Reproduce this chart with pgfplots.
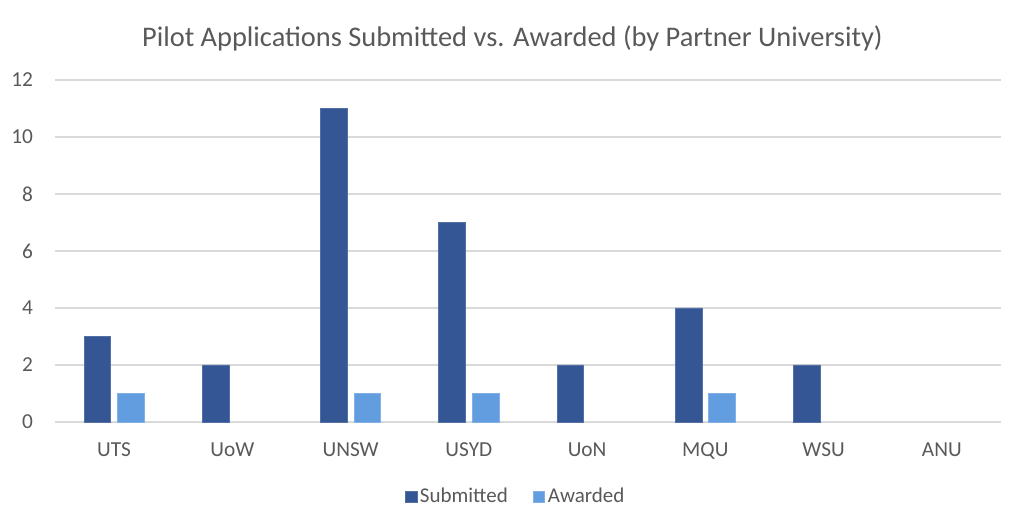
\documentclass[border=0pt]{standalone}
\usepackage{pgfplots}
\pgfplotsset{compat=1.18}
\usepackage{fontspec}
\setmainfont{Carlito}
\definecolor{subm}{HTML}{355694}
\definecolor{awrd}{HTML}{629DE0}
\definecolor{gridc}{HTML}{D9D9D9}
\definecolor{txt}{HTML}{595959}
\begin{document}
\begin{tikzpicture}[x=0.75pt,y=0.75pt]
\useasboundingbox (-55,-109) rectangle (969,422);
\begin{axis}[
  at={(0,0)}, anchor=south west,
  scale only axis,
  width=946*0.75pt, height=342*0.75pt,
  xmin=-0.5, xmax=7.5, ymin=0, ymax=12,
  ytick={0,2,...,12},
  xtick={0,...,7},
  xticklabels={UTS,UoW,UNSW,USYD,UoN,MQU,WSU,ANU},
  axis line style={draw=none},
  ymajorgrids, grid style={gridc, line width=1.2pt},
  major tick length=0pt,
  tick label style={font=\fontsize{16}{19}\selectfont, text=txt},
  /pgf/number format/assume math mode=true,
  yticklabel style={xshift=-13pt},
  xticklabel style={yshift=-12pt},
  ybar, bar width=20pt,
  legend style={at={(0.4875,-0.218)}, anchor=center, draw=none, legend columns=2,
    font=\fontsize{15.75}{18}\selectfont, text=txt,
    /tikz/every even column/.append style={column sep=17pt}},
  legend image code/.code={\fill[#1] (0,-4.2pt) rectangle (8.4pt,4.2pt);},
  title={Pilot Applications Submitted vs. Awarded (by Partner University)},
  title style={font=\fontsize{21.3}{25}\selectfont, text=txt, at={(0.4835,1)}, yshift=12pt, anchor=south},
  clip=false,
]
\addplot[ybar, bar shift=-12.56pt, fill=subm, draw=subm!85!white, line width=0.6pt]
  coordinates {(0,3) (1,2) (2,11) (3,7) (4,2) (5,4) (6,2)};
\addlegendentry{Submitted}
\addplot[ybar, bar shift=12.56pt, fill=awrd, draw=awrd!80!white, line width=0.6pt]
  coordinates {(0,1) (2,1) (3,1) (5,1)};
\addlegendentry{Awarded}
\end{axis}
\end{tikzpicture}
\end{document}
